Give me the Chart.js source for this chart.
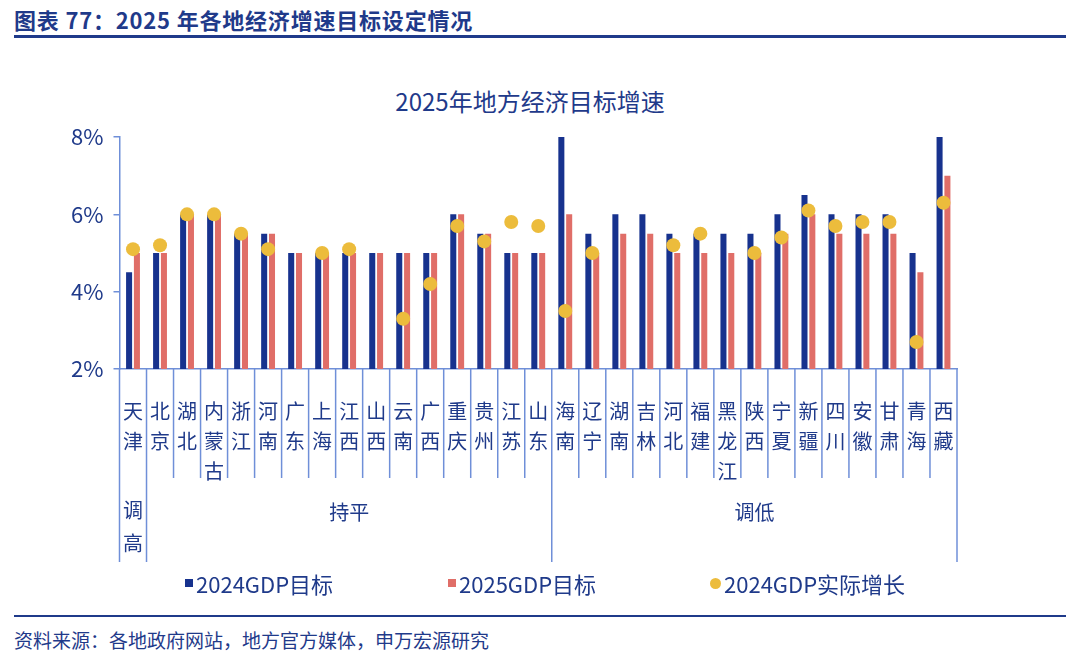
<!DOCTYPE html>
<html lang="zh-CN">
<head>
  <meta charset="UTF-8">
  <title>2025年地方经济目标增速</title>
  <script src="https://cdn.jsdelivr.net/npm/chart.js"></script>
  <style>
    body { margin: 0; width: 1080px; height: 656px; background: #fff; position: relative; overflow: hidden;
           font-family: "Noto Sans CJK SC", "Noto Sans", sans-serif; color: #1f3a8a; }
    .header { position: absolute; left: 14px; top: 4px; font-size: 22px; font-weight: bold; line-height: 30px; letter-spacing: 0.8px; }
    .rule { position: absolute; left: 14px; width: 1052px; background: #1f3a8a; }
    .title { position: absolute; left: 330px; width: 400px; top: 85px; text-align: center; font-size: 24px; line-height: 32px; }
    #wrap { position: absolute; left: 0; top: 48px; width: 1080px; height: 520px; }
    .legend-item { position: absolute; top: 570px; font-size: 22px; line-height: 26px; display: flex; align-items: center; }
    .mk { display: inline-block; margin-right: 3px; }
    .source { position: absolute; left: 14px; top: 626px; font-size: 19px; line-height: 28px; }
  </style>
</head>
<body>
  <div class="header">图表 77：2025 年各地经济增速目标设定情况</div>
  <div class="rule" style="top:35px;height:3px"></div>

  <div class="title">2025年地方经济目标增速</div>
  <div id="wrap"><canvas id="gdpChart"></canvas></div>

  <div class="legend-item" style="left:185px"><span class="mk" style="width:8px;height:8px;background:#17328e"></span>2024GDP目标</div>
  <div class="legend-item" style="left:448px"><span class="mk" style="width:8px;height:8px;background:#e06e68"></span>2025GDP目标</div>
  <div class="legend-item" style="left:710px"><span class="mk" style="width:11px;height:11px;border-radius:50%;background:#ecbc3c"></span>2024GDP实际增长</div>

  <div class="rule" style="top:615px;height:2px"></div>
  <div class="source">资料来源：各地政府网站，地方官方媒体，申万宏源研究</div>

  <script>
    const provinces = ['天津', '北京', '湖北', '内蒙古', '浙江', '河南', '广东', '上海', '江西', '山西', '云南', '广西',
      '重庆', '贵州', '江苏', '山东', '海南', '辽宁', '湖南', '吉林', '河北', '福建', '黑龙江', '陕西', '宁夏', '新疆',
      '四川', '安徽', '甘肃', '青海', '西藏'];
    const groupNames = ['调高', '持平', '调低'];
    const groupSizes = [1, 15, 15];

    const target2024 = [4.5, 5.0, 6.0, 6.0, 5.5, 5.5, 5.0, 5.0, 5.0, 5.0, 5.0, 5.0, 6.0, 5.5, 5.0, 5.0,
      8.0, 5.5, 6.0, 6.0, 5.5, 5.5, 5.5, 5.5, 6.0, 6.5, 6.0, 6.0, 6.0, 5.0, 8.0];
    const target2025 = [5.0, 5.0, 6.0, 6.0, 5.5, 5.5, 5.0, 5.0, 5.0, 5.0, 5.0, 5.0, 6.0, 5.5, 5.0, 5.0,
      6.0, 5.0, 5.5, 5.5, 5.0, 5.0, 5.0, 5.0, 5.5, 6.0, 5.5, 5.5, 5.5, 4.5, 7.0];
    const actual2024 = [5.1, 5.2, 6.0, 6.0, 5.5, 5.1, null, 5.0, 5.1, null, 3.3, 4.2, 5.7, 5.3, 5.8, 5.7,
      3.5, 5.0, null, null, 5.2, 5.5, null, 5.0, 5.4, 6.1, 5.7, 5.8, 5.8, 2.7, 6.3];
    const yTicks = [2, 4, 6, 8];

    const axisColor = '#6f8fd8';
    const textColor = '#1f3a8a';
    const cjk = '"Noto Sans CJK SC", "Noto Sans", sans-serif';

    // separator lines and the 调高 / 持平 / 调低 row under the province names
    const groupAxis = {
      id: 'groupAxis',
      afterDraw(chart) {
        const x = chart.scales.x;
        const ctx = chart.ctx;
        const step = (x.right - x.left) / provinces.length;
        const edges = [0];
        groupSizes.forEach(s => edges.push(edges[edges.length - 1] + s));

        ctx.save();
        ctx.strokeStyle = axisColor;
        ctx.lineWidth = 1.5;
        for (let i = 0; i <= provinces.length; i++) {
          const px = x.getPixelForValue(i) - step / 2;
          const long = edges.includes(i);
          ctx.beginPath();
          ctx.moveTo(px, x.top);
          ctx.lineTo(px, x.top + (long ? 193 : 109));
          ctx.stroke();
        }

        ctx.fillStyle = textColor;
        ctx.font = '20px ' + cjk;
        ctx.textAlign = 'center';
        ctx.textBaseline = 'middle';
        groupNames.forEach((name, g) => {
          const cx = x.getPixelForValue((edges[g] + edges[g + 1] - 1) / 2);
          if (groupSizes[g] === 1) {
            name.split('').forEach((ch, k) => ctx.fillText(ch, cx, x.top + 141 + k * 33));
          } else {
            ctx.fillText(name, cx, x.top + 143);
          }
        });
        ctx.restore();
      }
    };

    new Chart(document.getElementById('gdpChart'), {
      type: 'bar',
      data: {
        labels: provinces.map(p => p.split('')),
        datasets: [
          {
            label: '2024GDP实际增长',
            type: 'line',
            data: actual2024,
            showLine: false,
            pointRadius: 7,
            pointHoverRadius: 7,
            pointBackgroundColor: '#ecbc3c',
            pointBorderWidth: 0,
            order: 0
          },
          {
            label: '2024GDP目标',
            data: target2024,
            backgroundColor: '#17328e',
            categoryPercentage: 0.58,
            barPercentage: 0.77,
            order: 1
          },
          {
            label: '2025GDP目标',
            data: target2025,
            backgroundColor: '#e06e68',
            categoryPercentage: 0.58,
            barPercentage: 0.77,
            order: 2
          }
        ]
      },
      options: {
        responsive: true,
        maintainAspectRatio: false,
        animation: false,
        layout: { padding: { left: 0, right: 123, top: 89, bottom: 0 } },
        plugins: {
          legend: { display: false },
          tooltip: { enabled: false }
        },
        scales: {
          x: {
            offset: true,
            grid: { display: false },
            border: { display: true, color: axisColor, width: 1.5 },
            ticks: {
              color: textColor,
              font: { family: cjk, size: 20, lineHeight: 1.5 },
              padding: 19,
              maxRotation: 0,
              autoSkip: false
            },
            afterFit(scale) { scale.height = 199; }
          },
          y: {
            min: 2,
            max: 8,
            afterBuildTicks(scale) { scale.ticks = yTicks.map(v => ({ value: v })); },
            grid: { drawOnChartArea: false, drawTicks: true, tickLength: 6, color: axisColor, lineWidth: 1.5 },
            border: { display: true, color: axisColor, width: 1.5 },
            ticks: {
              color: textColor,
              font: { family: cjk, size: 22 },
              padding: 10,
              callback: v => v + '%'
            },
            afterFit(scale) { scale.width = 119.5; }
          }
        }
      },
      plugins: [groupAxis]
    });
  </script>
</body>
</html>
